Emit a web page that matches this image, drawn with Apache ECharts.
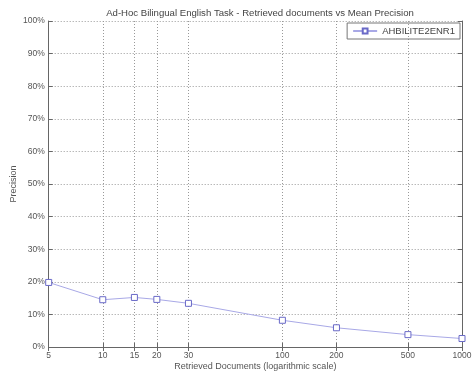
<!DOCTYPE html>
<html><head><meta charset="utf-8">
<script src="https://cdn.jsdelivr.net/npm/echarts@6/dist/echarts.min.js"></script>
<style>html,body{margin:0;padding:0;background:#fff}#c{width:472px;height:377px}</style>
</head><body><div id="c"></div>
<script>
var docs = [5, 10, 15, 20, 30, 100, 200, 500, 1000];
var precision = [19.8, 14.5, 15.2, 14.6, 13.4, 8.2, 5.9, 3.8, 2.6];
var xTicks = [5, 10, 15, 20, 30, 100, 200, 500, 1000];
var yTicks = [0, 10, 20, 30, 40, 50, 60, 70, 80, 90, 100];
var seriesName = 'AHBILITE2ENR1';

var chart = echarts.init(document.getElementById('c'));
var txt = {color: '#555', fontFamily: 'Liberation Sans', fontSize: 8.5};
var gridLine = {color: '#999', type: [1, 2], width: 1};
chart.setOption({
  animation: false,
  title: {text: 'Ad-Hoc Bilingual English Task - Retrieved documents vs Mean Precision', left: 255, top: 3, textAlign: 'center',
    textStyle: {color: '#444', fontFamily: 'Liberation Sans', fontSize: 9.6, fontWeight: 'normal'}},
  legend: {right: 12, top: 23, data: [seriesName], itemWidth: 24, itemHeight: 6, borderColor: '#777', borderWidth: 1, padding: [3, 5, 3, 5], borderRadius: 0,
    textStyle: {color: '#444', fontFamily: 'Liberation Sans', fontSize: 9.5}},
  grid: {left: 48.7, right: 10, top: 21, bottom: 30, outerBoundsMode: 'none', containLabel: false},
  xAxis: [{
    type: 'log', logBase: 10, min: 5, max: 1000,
    name: 'Retrieved Documents (logarithmic scale)', nameLocation: 'middle', nameGap: 15, nameMoveOverlap: false,
    nameTextStyle: {color: '#555', fontFamily: 'Liberation Sans', fontSize: 9},
    axisLine: {lineStyle: {color: '#666'}},
    axisTick: {inside: true, length: 4, customValues: xTicks, lineStyle: {color: '#666'}},
    axisLabel: Object.assign({customValues: xTicks, margin: 4, formatter: function (v) { return String(Math.round(v)); }}, txt),
    splitLine: {show: true, lineStyle: gridLine},
    minorTick: {show: false}
  }, {
    type: 'log', logBase: 10, min: 5, max: 1000, position: 'top',
    axisLine: {lineStyle: {color: '#666'}},
    axisTick: {inside: true, length: 4, customValues: xTicks, lineStyle: {color: '#666'}},
    axisLabel: {show: false}, splitLine: {show: false}
  }],
  yAxis: [{
    type: 'value', min: 0, max: 100, interval: 10,
    name: 'Precision', nameLocation: 'middle', nameGap: 31, nameMoveOverlap: false,
    nameTextStyle: {color: '#555', fontFamily: 'Liberation Sans', fontSize: 9},
    axisLine: {show: true, lineStyle: {color: '#666'}},
    axisTick: {show: true, inside: true, length: 4, lineStyle: {color: '#666'}},
    axisLabel: Object.assign({formatter: '{value}%', margin: 4}, txt),
    splitLine: {show: true, lineStyle: gridLine}
  }, {
    type: 'value', min: 0, max: 100, interval: 10, position: 'right',
    axisLine: {show: true, lineStyle: {color: '#666'}},
    axisTick: {show: true, inside: true, length: 4, lineStyle: {color: '#666'}},
    axisLabel: {show: false}, splitLine: {show: false}
  }],
  series: [{
    name: seriesName, type: 'line',
    data: docs.map(function (d, i) { return [d, precision[i]]; }),
    symbol: 'rect', symbolSize: 6,
    lineStyle: {color: '#a8a8e6', width: 1},
    itemStyle: {color: '#fff', borderColor: '#6a6ac8', borderWidth: 1},
    emphasis: {disabled: true}
  }]
});
</script></body></html>
